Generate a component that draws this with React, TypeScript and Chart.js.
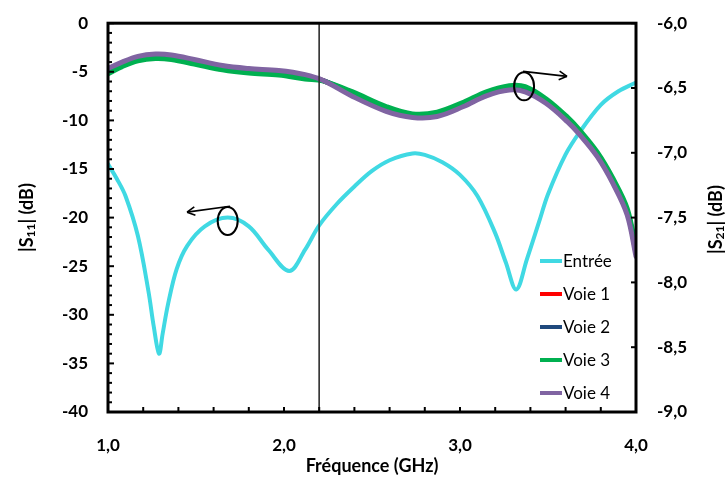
import { useEffect, useRef } from 'react';
import { Chart, registerables } from 'chart.js';

Chart.register(...registerables);

// ---- Data ----
const freqS11 = [1.0, 1.05, 1.1, 1.17, 1.23, 1.26, 1.29, 1.31, 1.34, 1.39, 1.45, 1.55, 1.68, 1.8, 1.91, 2.03, 2.12, 2.2, 2.3, 2.4, 2.5, 2.6, 2.73, 2.8, 2.9, 3.0, 3.1, 3.2, 3.26, 3.32, 3.38, 3.45, 3.5, 3.6, 3.68, 3.8, 3.9, 4.0];
const s11Entree = [-14.5, -16.0, -17.8, -21.9, -27.6, -31.2, -34.0, -32.0, -29.0, -25.3, -22.9, -20.9, -20.0, -20.9, -23.3, -25.5, -23.3, -20.8, -18.6, -16.8, -15.2, -14.1, -13.4, -13.55, -14.3, -15.6, -17.8, -21.6, -24.6, -27.4, -24.3, -20.4, -17.6, -13.5, -11.2, -8.4, -7.0, -6.1];

const freqS21 = [1.0, 1.08, 1.17, 1.27, 1.36, 1.49, 1.65, 1.8, 1.97, 2.12, 2.22, 2.39, 2.58, 2.73, 2.87, 3.02, 3.15, 3.28, 3.37, 3.49, 3.61, 3.68, 3.78, 3.87, 3.95, 4.0];
const s21Voie1 = [-6.37, -6.318, -6.273, -6.255, -6.262, -6.297, -6.343, -6.367, -6.382, -6.413, -6.442, -6.548, -6.662, -6.713, -6.703, -6.627, -6.545, -6.5, -6.51, -6.603, -6.743, -6.843, -7.013, -7.22, -7.455, -7.77];
const s21Voie2 = [-6.375, -6.322, -6.277, -6.259, -6.266, -6.301, -6.346, -6.37, -6.385, -6.416, -6.442, -6.545, -6.658, -6.71, -6.7, -6.624, -6.542, -6.497, -6.507, -6.6, -6.74, -6.84, -7.01, -7.215, -7.45, -7.765];
const s21Voie3 = [-6.39, -6.335, -6.29, -6.272, -6.28, -6.315, -6.36, -6.385, -6.4, -6.43, -6.445, -6.53, -6.643, -6.7, -6.686, -6.61, -6.53, -6.483, -6.49, -6.585, -6.725, -6.825, -6.995, -7.2, -7.43, -7.74];
const s21Voie4 = [-6.35, -6.3, -6.256, -6.238, -6.245, -6.28, -6.327, -6.35, -6.365, -6.397, -6.44, -6.565, -6.68, -6.727, -6.72, -6.643, -6.56, -6.516, -6.53, -6.62, -6.76, -6.86, -7.03, -7.24, -7.48, -7.8];

const markerFreq = 2.2; // vertical reference line
const seriesLabels = ['Entrée', 'Voie 1', 'Voie 2', 'Voie 3', 'Voie 4'];

// annotation anchors (data units)
const annoLeft = { cx: 1.68, cy: -20.35, sx: 1.693, sy: -18.84, tx: 1.449, ty: -19.44 };
const annoRight = { cx: 3.364, cy: -6.487, sx: 3.358, sy: -6.372, tx: 3.608, ty: -6.41 };

const FONT = 'Lato, "Liberation Sans", sans-serif';
const comma = (v: number, d: number) => v.toFixed(d).replace('.', ',');

function pts(xs: number[], ys: number[]) {
  return xs.map((x, i) => ({ x, y: ys[i] }));
}

function drawRich(ctx: CanvasRenderingContext2D, parts: { t: string; sub?: boolean }[], cx: number, cy: number, rot: number) {
  const big = `bold 18px ${FONT}`;
  const small = `bold 12px ${FONT}`;
  let total = 0;
  const widths = parts.map((p) => {
    ctx.font = p.sub ? small : big;
    const w = ctx.measureText(p.t).width;
    total += w;
    return w;
  });
  ctx.save();
  ctx.translate(cx, cy);
  ctx.rotate(rot);
  ctx.fillStyle = '#000';
  ctx.textBaseline = 'middle';
  ctx.textAlign = 'left';
  let x = -total / 2;
  parts.forEach((p, i) => {
    ctx.font = p.sub ? small : big;
    ctx.fillText(p.t, x, p.sub ? 4 : 0);
    x += widths[i];
  });
  ctx.restore();
}

const decor = {
  id: 'decor',
  afterDatasetsDraw(chart: any) {
    const { ctx, chartArea: a, scales } = chart;
    const sx = scales.x, sy = scales.y, sy2 = scales.y2;
    ctx.save();
    ctx.strokeStyle = '#000';
    ctx.lineWidth = 2;
    const seg = (x0: number, y0: number, x1: number, y1: number) => {
      ctx.beginPath(); ctx.moveTo(x0, y0); ctx.lineTo(x1, y1); ctx.stroke();
    };
    for (let i = 0; i <= 40; i++) {
      const py = sy.getPixelForValue(-i);
      seg(a.left, py, a.left + (i % 5 === 0 ? 6 : 4), py);
    }
    for (let i = 0; i <= 6; i++) {
      const py = sy2.getPixelForValue(-6 - i * 0.5);
      seg(a.right, py, a.right - 5, py);
    }
    for (let i = 0; i <= 15; i++) {
      const px = sx.getPixelForValue(1 + i * 0.2);
      seg(px, a.bottom, px, a.bottom - 5);
    }
    ctx.lineWidth = 3;
    ctx.strokeRect(a.left, a.top, a.right - a.left, a.bottom - a.top);

    const anno = (o: any, ys: any) => {
      const cx = sx.getPixelForValue(o.cx), cy = ys.getPixelForValue(o.cy);
      ctx.lineWidth = 2;
      ctx.beginPath();
      ctx.ellipse(cx, cy, 10, 14, 0, 0, Math.PI * 2);
      ctx.stroke();
      const x0 = sx.getPixelForValue(o.sx), y0 = ys.getPixelForValue(o.sy);
      const x1 = sx.getPixelForValue(o.tx), y1 = ys.getPixelForValue(o.ty);
      ctx.lineWidth = 1.6;
      seg(x0, y0, x1, y1);
      const ang = Math.atan2(y1 - y0, x1 - x0);
      const L = 9, sp = 0.5;
      seg(x1, y1, x1 - L * Math.cos(ang - sp), y1 - L * Math.sin(ang - sp));
      seg(x1, y1, x1 - L * Math.cos(ang + sp), y1 - L * Math.sin(ang + sp));
    };
    anno(annoLeft, sy);
    anno(annoRight, sy2);
    ctx.restore();
  },
  afterDraw(chart: any) {
    const { ctx, chartArea: a } = chart;
    ctx.save();
    drawRich(ctx, [{ t: '|S' }, { t: '11', sub: true }, { t: '| (dB)' }], 27, (a.top + a.bottom) / 2, -Math.PI / 2);
    drawRich(ctx, [{ t: '|S' }, { t: '21', sub: true }, { t: '| (dB)' }], 716, (a.top + a.bottom) / 2 + 2, -Math.PI / 2);
    drawRich(ctx, [{ t: 'Fréquence (GHz)' }], (a.left + a.right) / 2, 466, 0);

    const ds = chart.data.datasets.filter((d: any) => d.inLegend);
    ds.forEach((d: any, i: number) => {
      const y = a.bottom - 151 + i * 33;
      ctx.strokeStyle = d.borderColor;
      ctx.lineWidth = 4;
      ctx.beginPath();
      ctx.moveTo(a.right - 96, y);
      ctx.lineTo(a.right - 74, y);
      ctx.stroke();
      ctx.fillStyle = '#000';
      ctx.font = `17px ${FONT}`;
      ctx.textBaseline = 'middle';
      ctx.textAlign = 'left';
      ctx.fillText(d.label, a.right - 73, y + 1);
    });
    ctx.restore();
  },
};

export default function App() {
  const ref = useRef<HTMLCanvasElement>(null);
  useEffect(() => {
    if (!ref.current) return;
    const common = { pointRadius: 0, fill: false, tension: 0.35, borderCapStyle: 'round' as const, borderJoinStyle: 'round' as const };
    const tickFont = { family: FONT, size: 17, weight: 'bold' as const };
    const chart = new Chart(ref.current, {
      type: 'line',
      data: {
        datasets: [
          { ...common, label: seriesLabels[0], data: pts(freqS11, s11Entree), borderColor: '#40D9E3', borderWidth: 4, yAxisID: 'y', order: 5, inLegend: true } as any,
          { ...common, label: seriesLabels[1], data: pts(freqS21, s21Voie1), borderColor: '#FF0000', borderWidth: 5, yAxisID: 'y2', order: 4, inLegend: true } as any,
          { ...common, label: seriesLabels[2], data: pts(freqS21, s21Voie2), borderColor: '#1F497D', borderWidth: 5, yAxisID: 'y2', order: 3, inLegend: true } as any,
          { ...common, label: seriesLabels[3], data: pts(freqS21, s21Voie3), borderColor: '#00B050', borderWidth: 5, yAxisID: 'y2', order: 2, inLegend: true } as any,
          { ...common, label: seriesLabels[4], data: pts(freqS21, s21Voie4), borderColor: '#8064A2', borderWidth: 5, yAxisID: 'y2', order: 1, inLegend: true } as any,
          { label: 'ref', data: [{ x: markerFreq, y: 0 }, { x: markerFreq, y: -40 }], borderColor: '#333', borderWidth: 1, pointRadius: 0, yAxisID: 'y', order: 0 } as any,
        ],
      },
      options: {
        responsive: false,
        animation: false,
        devicePixelRatio: 1,
        layout: { padding: { top: 17, left: 0, right: 0, bottom: 0 } },
        plugins: { legend: { display: false }, tooltip: { enabled: false } },
        scales: {
          x: {
            type: 'linear', min: 1, max: 4,
            grid: { display: false }, border: { display: false },
            ticks: { stepSize: 1, padding: 15, color: '#000', font: tickFont, callback: (v: any) => comma(Number(v), 1) },
            afterFit: (s: any) => { s.height = 67; },
          },
          y: {
            type: 'linear', position: 'left', min: -40, max: 0,
            grid: { display: false }, border: { display: false },
            ticks: { stepSize: 5, padding: 12, color: '#000', font: tickFont, callback: (v: any) => String(Math.round(Number(v))) },
            afterFit: (s: any) => { s.width = 108; },
          },
          y2: {
            type: 'linear', position: 'right', min: -9, max: -6,
            grid: { display: false }, border: { display: false },
            ticks: { stepSize: 0.5, padding: 13, color: '#000', font: tickFont, callback: (v: any) => comma(Number(v), 1) },
            afterFit: (s: any) => { s.width = 91; },
          },
        },
      } as any,
      plugins: [decor],
    });
    return () => chart.destroy();
  }, []);
  return (
    <div style={{ position: 'fixed', left: 0, top: 0, width: 727, height: 479, background: '#fff' }}>
      <canvas ref={ref} width={727} height={479} style={{ display: 'block' }} />
    </div>
  );
}
